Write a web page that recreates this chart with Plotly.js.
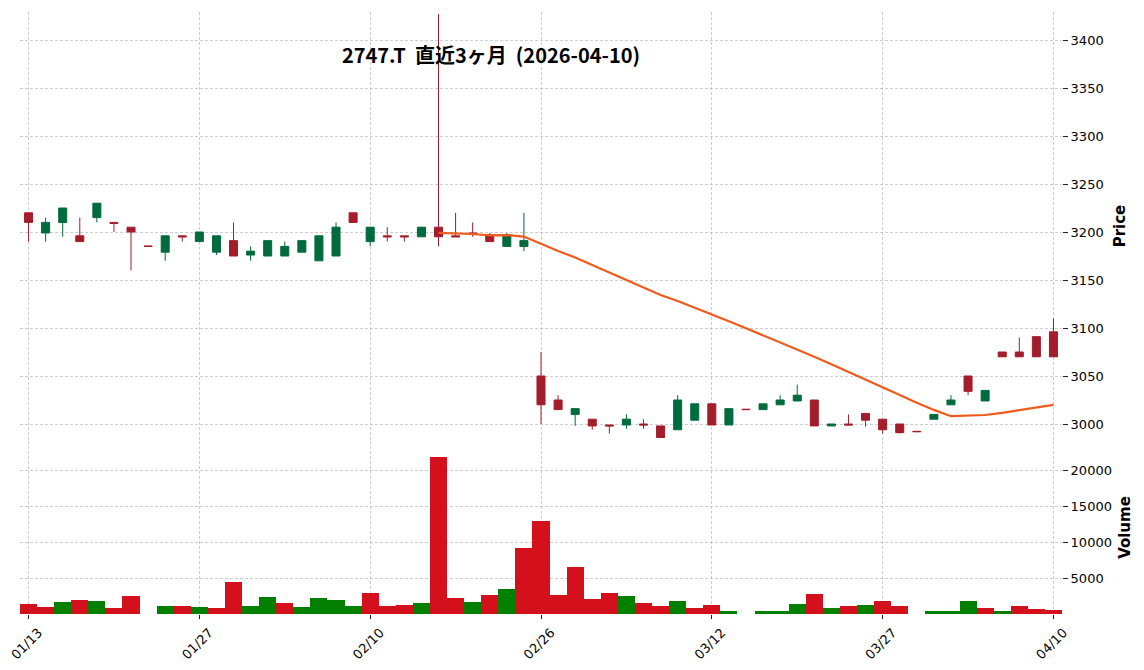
<!DOCTYPE html>
<html><head><meta charset="utf-8">
<script src="https://cdn.plot.ly/plotly-3.0.1.min.js"></script>
<style>html,body{margin:0;padding:0;background:#fff}</style>
</head><body><div id="chart" style="width:1144px;height:670px"></div>
<script>
// ---- data (trading-day index 0..60) ----
const tickIndex  = [0, 10, 20, 30, 40, 50, 60];
const tickLabels = ['01/13', '01/27', '02/10', '02/26', '03/12', '03/27', '04/10'];

const opens  = [3220,3199,3210,3196,3215,3210,3205,3185.4,3179,3196,3190,3179,3191,3176,3175,3175,3179,3170,3175,3220,
                3190,3196,3196,3195,3205,3196,3199,3197,3185,3185,3050,3025,3010,3005,2999,2999,3000,2998,2994,3004,
                3021,2999,3015.4,3015,3020,3024,3025,2998,3000,3011,3005,3000,2992.4,3005,3020,3050,3024,3075,3075,3091,3096];
const highs  = [3220,3215,3225,3215,3230,3210,3205,3185.4,3196,3196,3200,3196,3210,3185,3191,3190,3191,3196,3210,3220,
                3205,3205,3196,3205,3427,3220,3210,3199,3199,3220,3075,3030,3016,3005,2999,3010,3005,2998,3030,3021,
                3021,3016,3015.4,3021,3030,3041,3025,3000,3010,3011,3005,3000,2992.4,3010,3030,3050,3035,3075,3090,3091,3110];
const lows   = [3190,3190,3195,3190,3210,3200,3160,3185,3170,3190,3190,3176,3175,3170,3175,3175,3179,3170,3175,3210,
                3185,3190,3190,3195,3185,3195,3195,3190,3185,3180,3000,3015,2998,2994,2990,2995,2995,2986,2994,3004,
                2999,2999,3015,3015,3020,3024,2998,2998,2999,2997,2990,2990,2992,3005,3020,3030,3024,3070,3070,3070,3070];
const closes = [3210,3210,3225,3190,3230,3209,3200,3185,3196,3195,3200,3196,3175,3180,3191,3185,3191,3196,3205,3210,
                3205,3195,3195,3205,3195,3195,3198,3190,3197,3191,3020,3015,3016,2998,2998,3005,2999,2986,3025,3021,
                2999,3016,3015,3021,3025,3030,2998,3000,2999,3004,2994,2991,2992,3010,3025,3034,3035,3070,3070,3070,3070];

const volumes = [1430,1014,1708,1986,1847,875,2542,0,1153,1153,1014,875,4486,1153,2403,1569,1014,2264,1986,1153,
                 2958,1153,1292,1569,21850,2264,1708,2681,3514,9208,12958,2681,6569,2125,2958,2542,1569,1153,1847,875,
                 1292,458,0,458,458,1430,2820,875,1153,1292,1847,1153,0,458,458,1847,875,458,1153,736,597];
// 'u' = green volume bar, 'd' = red volume bar
const volumeDir = ['d','d','u','d','u','d','d','d','u','d','u','d','d','u','u','d','u','u','u','u',
                   'd','d','d','u','d','d','u','d','u','d','d','d','d','d','d','u','d','d','u','d',
                   'd','u','d','u','u','u','d','u','d','u','d','d','d','u','u','u','d','u','d','d','d'];

const maStart = 24;   // first index with a moving average value
const ma25 = [3199,3198.4,3197.9,3196.5,3196.8,3195.2,3187.6,3180.2,3173.5,3165.6,3157.7,3149.9,3142,3134.4,3128.2,
              3121.4,3114,3107,3099.8,3092.4,3085,3078,3070.1,3062.3,3054.1,3046.4,3038.4,3030.1,3022.2,3014.7,
              3008.1,3008.6,3009.4,3011.6,3014.5,3017.4,3020];

const priceTicks  = [3000,3050,3100,3150,3200,3250,3300,3350,3400];
const volumeTicks = [5000,10000,15000,20000];

// ---- build ----
const xs   = opens.map((_, i) => i);
const maXs = ma25.map((_, i) => i + maStart);
const C_UP = '#006b3d', C_DN = '#a41d2b', V_UP = '#007f00', V_DN = '#d4101c';

const traces = [
  {type:'candlestick', x:xs, open:opens, high:highs, low:lows, close:closes,
   xaxis:'x', yaxis:'y', whiskerwidth:0,
   increasing:{line:{color:C_UP, width:1}, fillcolor:C_UP},
   decreasing:{line:{color:C_DN, width:1}, fillcolor:C_DN},
   hoverinfo:'skip'},
  {type:'scatter', mode:'lines', x:maXs, y:ma25, xaxis:'x', yaxis:'y',
   line:{color:'#f05a1a', width:2.2}, hoverinfo:'skip'},
  {type:'bar', x:xs, y:volumes, xaxis:'x', yaxis:'y2', width:1,
   marker:{color:volumeDir.map(d => d === 'u' ? V_UP : V_DN), line:{width:0}}, hoverinfo:'skip'}
];

const grid = {showgrid:true, gridcolor:'#b8b8b8', griddash:'3px,2px', gridwidth:0.7, zeroline:false, showline:false};
const layout = {
  width:1144, height:670,
  margin:{l:20, r:82, t:12, b:56},
  paper_bgcolor:'#fff', plot_bgcolor:'#fff',
  showlegend:false, boxgap:0.33, bargap:0,
  font:{family:'DejaVu Sans', size:13, color:'#000'},
  title:{text:'2747.T  直近3ヶ月  (2026-04-10)',
         font:{family:'Noto Sans CJK JP', size:20, color:'#000', weight:'bold'},
         x:491/1144, xref:'container', xanchor:'center', y:1-56/670, yref:'container', yanchor:'middle'},
  xaxis:Object.assign({range:[-0.5,60.5], tickmode:'array', tickvals:tickIndex, ticktext:tickLabels,
         tickangle:-45, ticks:'outside', ticklen:4, tickcolor:'#222', anchor:'y2',
         ticklabelshift:10, ticklabelstandoff:1,
         rangeslider:{visible:false}, tickfont:{size:13}}, grid),
  yaxis:Object.assign({domain:[(614-440)/602, 1], range:[3400-(440-40)/0.96, 3400+(40-12)/0.96],
         side:'right', anchor:'x', tickmode:'array', tickvals:priceTicks, ticks:'outside', ticklen:5, tickcolor:'#222',
         title:{text:'Price', font:{size:15, weight:'bold'}, standoff:11}}, grid),
  yaxis2:Object.assign({domain:[0, (614-441)/602], range:[0, (614-441)*5000/36],
         side:'right', anchor:'x', tickmode:'array', tickvals:volumeTicks, tickformat:'d', ticks:'outside', ticklen:5, tickcolor:'#222',
         title:{text:'Volume', font:{size:15, weight:'bold'}, standoff:8}}, grid)
};
Plotly.newPlot('chart', traces, layout, {staticPlot:true});
</script></body></html>
